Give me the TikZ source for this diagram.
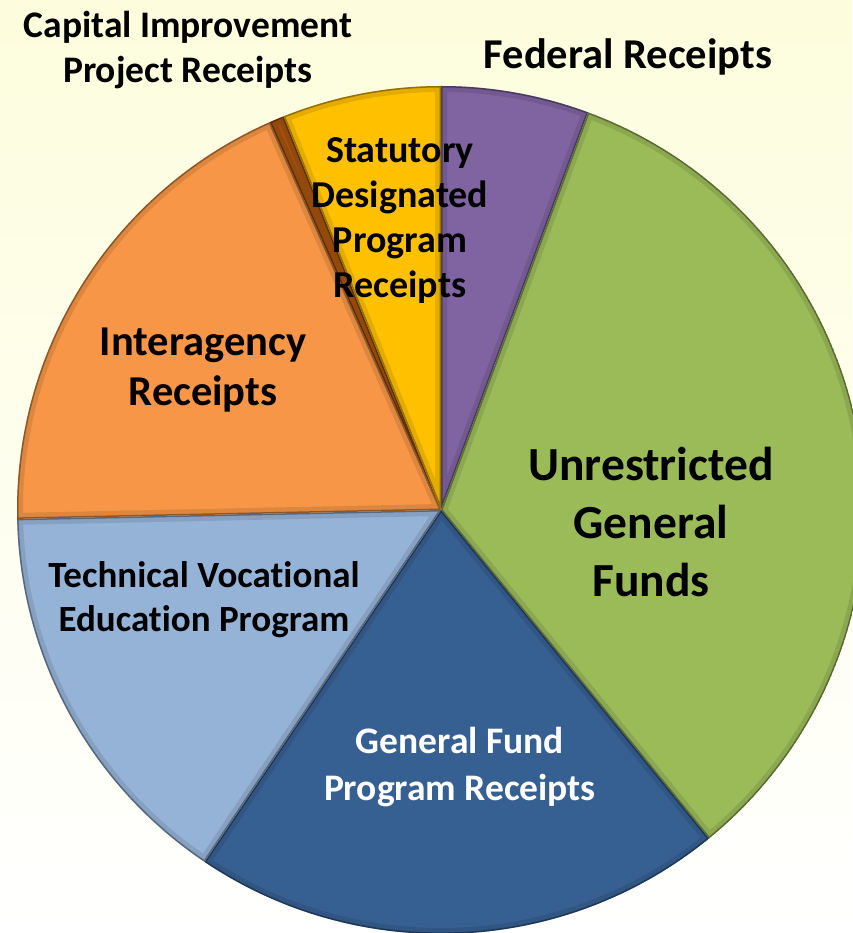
\documentclass[tikz,border=0pt]{standalone}
\usepackage{fontspec}
\setmainfont{Carlito}[Ligatures=NoCommon]

\definecolor{fedpurple}{HTML}{8064A2}
\definecolor{ugfgreen}{HTML}{9BBB59}
\definecolor{gfpblue}{HTML}{376092}
\definecolor{tvepblue}{HTML}{95B3D7}
\definecolor{iaorange}{HTML}{F79646}
\definecolor{cipbrown}{HTML}{A4520E}
\definecolor{sdpyellow}{HTML}{FFC000}
\definecolor{bgyellow}{HTML}{FDFDDD}
\definecolor{bglilac}{HTML}{E7E7F4}

\begin{document}
\begin{tikzpicture}[x=1pt, y=1pt,
    lbl/.style = {font=\bfseries, align=center, inner sep=0pt}]
    \useasboundingbox (-441,-423) rectangle (411,510);
    \shade[top color=bgyellow, middle color=bglilac, bottom color=white]
        (-441,-423) rectangle (411,510);

    % pie slices: start/end angle/colour
    \foreach \a/\b/\c in {90/69.7/fedpurple, 69.7/-50.8/ugfgreen,
        -50.8/-123.9/gfpblue, 236.1/181.2/tvepblue, 181.2/113.8/iaorange,
        113.8/111.8/cipbrown, 111.8/90/sdpyellow} {
        \begin{scope}
            \clip (0,0) -- (\a:424) arc[start angle=\a, end angle=\b, radius=424] -- cycle;
            \fill[\c] (0,0) circle (424);
            \draw[black, opacity=0.10, line width=12]
                (0,0) -- (\a:424) arc[start angle=\a, end angle=\b, radius=424] -- cycle;
            \draw[black, opacity=0.35, line width=3]
                (0,0) -- (\a:424) arc[start angle=\a, end angle=\b, radius=424] -- cycle;
        \end{scope}
    }

    \node[lbl, font=\bfseries\fontsize{37.5}{45}\selectfont] (cip) at (-253,460)
        {Capital Improvement\\Project Receipts};
    \node[lbl, font=\bfseries\fontsize{42.5}{45}\selectfont] (fed) at (187,453)
        {Federal Receipts};
    \node[lbl, font=\bfseries\fontsize{38}{45}\selectfont] (sdp) at (-41,289)
        {Statutory\\Designated\\Program\\Receipts};
    \node[lbl, font=\bfseries\fontsize{42.5}{50}\selectfont] (ia) at (-238,140)
        {Interagency\\Receipts};
    \node[lbl, font=\bfseries\fontsize{47.5}{58}\selectfont] (ugf) at (210,-12)
        {Unrestricted\\General\\Funds};
    \node[lbl, font=\bfseries\fontsize{37}{44}\selectfont] (tvep) at (-237,-90)
        {Technical Vocational\\Education Program};
    \node[lbl, text=white, font=\bfseries\fontsize{37.5}{47}\selectfont] (gfp) at (19,-257)
        {General Fund\\Program Receipts};
\end{tikzpicture}
\end{document}
